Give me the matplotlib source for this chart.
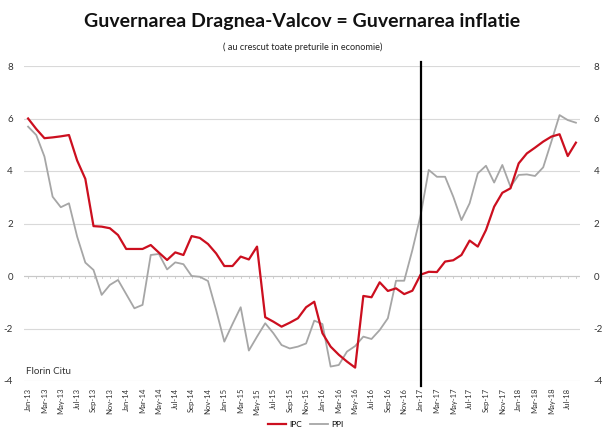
import numpy as np
import matplotlib
matplotlib.use("Agg")
from matplotlib import pyplot as plt

# monthly data, Jan-13 .. Aug-18
years = list(range(13, 19))
month_names = ['Jan', 'Feb', 'Mar', 'Apr', 'May', 'Jun', 'Jul', 'Aug', 'Sep', 'Oct', 'Nov', 'Dec']
months = [m + '-' + str(y) for y in years for m in month_names][:68]

ipc = [6.0, 5.6, 5.25, 5.28, 5.32, 5.37, 4.4, 3.7, 1.9, 1.88, 1.82, 1.56,
       1.03, 1.03, 1.03, 1.18, 0.89, 0.61, 0.9, 0.8, 1.52, 1.45, 1.22, 0.86,
       0.38, 0.38, 0.74, 0.63, 1.12, -1.57, -1.74, -1.93, -1.78, -1.61, -1.19, -0.98,
       -2.18, -2.69, -3.0, -3.26, -3.49, -0.76, -0.81, -0.24, -0.57, -0.47, -0.69, -0.56,
       0.05, 0.16, 0.15, 0.55, 0.6, 0.8, 1.35, 1.12, 1.75, 2.64, 3.17, 3.34,
       4.29, 4.67, 4.89, 5.12, 5.31, 5.4, 4.57, 5.08]

ppi = [5.69, 5.37, 4.55, 3.02, 2.62, 2.77, 1.5, 0.51, 0.23, -0.72, -0.34, -0.15,
       -0.69, -1.23, -1.1, 0.8, 0.84, 0.25, 0.52, 0.45, 0.0, -0.03, -0.19, -1.3,
       -2.5, -1.83, -1.19, -2.84, -2.31, -1.8, -2.18, -2.63, -2.76, -2.69, -2.57, -1.7,
       -1.83, -3.45, -3.39, -2.88, -2.67, -2.31, -2.4, -2.06, -1.61, -0.18, -0.18, 0.99,
       2.3, 4.04, 3.78, 3.78, 3.02, 2.13, 2.77, 3.91, 4.2, 3.56, 4.23, 3.4,
       3.85, 3.87, 3.81, 4.14, 5.12, 6.13, 5.94, 5.84]

yticks = [-4, -2, 0, 2, 4, 6, 8]
marker_month = 'Jan-17'

plt.rcParams['font.family'] = ['Lato', 'DejaVu Sans']

fig = plt.figure(figsize=(6.05, 4.38), dpi=100)
ax = fig.add_axes([24 / 605, 57 / 438, 556 / 605, 315 / 438])

x = np.arange(len(months))
ax.plot(x, ppi, color='#a6a6a6', lw=1.3, label='PPI', zorder=3)
ax.plot(x, ipc, color='#cc0f1f', lw=1.6, label='IPC', zorder=4)

ax.set_xlim(-0.5, len(months) - 0.5)
ax.set_ylim(-4, 8)
ax.set_yticks(yticks)
ax.set_yticklabels([str(v) for v in yticks], fontsize=7, color='#333333')
ax.tick_params(axis='y', length=0, pad=8)
ax.grid(axis='y', color='#d9d9d9', lw=0.8)
ax.set_axisbelow(True)
for s in ax.spines.values():
    s.set_visible(False)

# zero line with small ticks, labels at the bottom
ax.axhline(0, color='#c8c8c8', lw=0.8, zorder=1)
for i in x:
    ax.plot([i, i], [0, -0.08], color='#c8c8c8', lw=0.6, zorder=1)
ax.set_xticks(x[::2])
ax.set_xticklabels(months[::2], rotation=90, fontsize=5.5, color='#333333')
ax.tick_params(axis='x', length=0, pad=5)

ax2 = ax.twinx()
ax2.set_ylim(-4, 8)
ax2.set_yticks(yticks)
ax2.set_yticklabels([str(v) for v in yticks], fontsize=7, color='#333333')
ax2.tick_params(axis='y', length=0, pad=10)
for s in ax2.spines.values():
    s.set_visible(False)

xm = months.index(marker_month)
ax.plot([xm, xm], [-4.2, 8.15], color='black', lw=1.6, clip_on=False, zorder=5)

ax.text(-0.3, -3.75, 'Florin Citu', fontsize=7, color='#333333')

fig.text(0.5, 0.952, 'Guvernarea Dragnea-Valcov = Guvernarea inflatie',
         ha='center', va='center', fontsize=14, fontweight='bold', color='#111111')
fig.text(0.5, 0.893, '( au crescut toate preturile in economie)',
         ha='center', va='center', fontsize=6.6, color='#222222')

h, l = ax.get_legend_handles_labels()
fig.legend(h[::-1], l[::-1], loc='center', bbox_to_anchor=(0.505, 0.03), ncol=2,
           frameon=False, fontsize=6, handlelength=2.2, columnspacing=1.0, handletextpad=0.3)

fig.savefig('out.png', dpi=100)
